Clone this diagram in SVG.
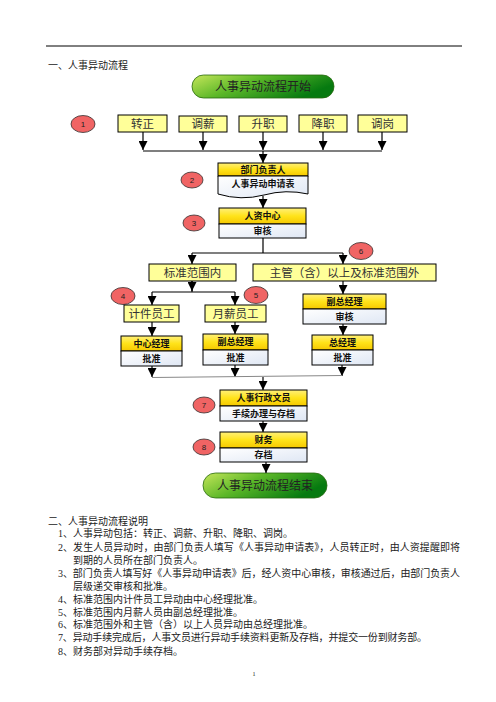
<svg xmlns="http://www.w3.org/2000/svg" width="496" height="702" viewBox="0 0 496 702">
<style>
.t{font-family:"Liberation Serif","Noto Sans CJK SC",serif;fill:#222;}
.b{font-family:"Noto Sans CJK SC",sans-serif;font-weight:bold;fill:#111;font-size:9px;text-anchor:middle;}
.yb{fill:#ffff99;stroke:#000;stroke-width:1;}
.hd{fill:url(#gy);stroke:#000;stroke-width:1;}
.lo{fill:url(#gb);stroke:#000;stroke-width:1;}
.c{fill:#f06464;stroke:#333;stroke-width:0.8;}
.ln{fill:none;stroke:#000;stroke-width:1.2;}
.ar{fill:none;stroke:#000;stroke-width:1.2;marker-end:url(#ah);}
.lbl{font-family:"Liberation Serif","Noto Sans CJK SC",serif;fill:#333;font-size:11.5px;text-anchor:middle;}
.num{font-family:"Liberation Sans",sans-serif;fill:#222;font-size:8px;text-anchor:middle;}
.p{font-family:"Liberation Serif","Noto Sans CJK SC",serif;fill:#222;font-size:10px;}
</style>
<defs>
<linearGradient id="gy" x1="0" y1="0" x2="0" y2="1"><stop offset="0" stop-color="#fff07a"/><stop offset="0.5" stop-color="#ffe31a"/><stop offset="1" stop-color="#f5c800"/></linearGradient>
<linearGradient id="gb" x1="0" y1="0" x2="1" y2="1"><stop offset="0" stop-color="#ffffff"/><stop offset="1" stop-color="#dfe7f4"/></linearGradient>
<linearGradient id="gg" x1="0" y1="0" x2="1" y2="0.4"><stop offset="0" stop-color="#c6e65a"/><stop offset="0.45" stop-color="#5db829"/><stop offset="1" stop-color="#067a10"/></linearGradient>
<marker id="ah" markerUnits="userSpaceOnUse" markerWidth="9" markerHeight="9" viewBox="0 0 10 10" refX="10" refY="5" orient="auto"><path d="M0,0 L10,5 L0,10 z" fill="#000"/></marker>
</defs>

<line x1="46" y1="46" x2="462" y2="46" stroke="#000" stroke-width="1"/>
<text class="p" x="48" y="69">一、人事异动流程</text>

<g id="start">
<rect x="192" y="75" width="142" height="23" rx="11.5" fill="url(#gg)" stroke="#2a6a10" stroke-width="0.8"/>
<text class="t" x="263" y="90.5" font-size="12" text-anchor="middle" fill="#1a2a0a">人事异动流程开始</text>
</g>

<g id="c1"><ellipse class="c" cx="83" cy="124" rx="12" ry="8.5"/><text class="num" x="83" y="127">1</text></g>
<g id="n-zz"><rect class="yb" x="118" y="115" width="49" height="17"/><text class="lbl" x="142.5" y="127.5">转正</text></g>
<g id="n-tx"><rect class="yb" x="179" y="116" width="48" height="16"/><text class="lbl" x="203" y="128">调薪</text></g>
<g id="n-sz"><rect class="yb" x="239" y="116" width="48" height="16"/><text class="lbl" x="263" y="128">升职</text></g>
<g id="n-jz"><rect class="yb" x="299" y="115" width="48" height="17"/><text class="lbl" x="323" y="127.5">降职</text></g>
<g id="n-tg"><rect class="yb" x="358" y="115" width="49" height="17"/><text class="lbl" x="382.5" y="127.5">调岗</text></g>

<g id="c2"><ellipse class="c" cx="192" cy="180" rx="11" ry="8"/><text class="num" x="192" y="183">2</text></g>
<g id="n-bm">
<rect class="hd" x="218" y="163" width="90" height="13"/>
<path class="lo" d="M218,176 H308 V194 Q286,189 264,195 Q241,201 218,194 Z"/>
<text class="b" x="263" y="172.5">部门负责人</text>
<text class="b" x="263" y="187">人事异动申请表</text>
</g>

<g id="c3"><ellipse class="c" cx="194" cy="223" rx="11" ry="8"/><text class="num" x="194" y="226">3</text></g>
<g id="n-rz">
<rect class="hd" x="219" y="208" width="87" height="16"/>
<rect class="lo" x="219" y="224" width="87" height="14"/>
<text class="b" x="262.5" y="219">人资中心</text>
<text class="b" x="262.5" y="234">审核</text>
</g>

<g id="n-bzn"><rect class="yb" x="149" y="264" width="87" height="17"/><text class="lbl" x="192.5" y="276.5">标准范围内</text></g>
<g id="c6"><ellipse class="c" cx="361" cy="251" rx="12" ry="8.5"/><text class="num" x="361" y="254">6</text></g>
<g id="n-bzw"><rect class="yb" x="253" y="264" width="183" height="17"/><text class="lbl" x="344.5" y="276.5">主管（含）以上及标准范围外</text></g>

<g id="c4"><ellipse class="c" cx="123" cy="296" rx="12" ry="8.5"/><text class="num" x="123" y="299">4</text></g>
<g id="c5"><ellipse class="c" cx="256" cy="295" rx="12" ry="8.5"/><text class="num" x="256" y="298">5</text></g>
<g id="n-jj"><rect class="yb" x="124" y="305" width="55" height="17"/><text class="lbl" x="151.5" y="317.5">计件员工</text></g>
<g id="n-yx"><rect class="yb" x="205" y="305" width="61" height="17"/><text class="lbl" x="235.5" y="317.5">月薪员工</text></g>

<g id="n-fz1">
<rect class="hd" x="303" y="294" width="83" height="15"/>
<rect class="lo" x="303" y="309" width="83" height="15"/>
<text class="b" x="344.5" y="304.5">副总经理</text>
<text class="b" x="344.5" y="319.5">审核</text>
</g>
<g id="n-zjl">
<rect class="hd" x="312" y="335" width="61" height="15"/>
<rect class="lo" x="312" y="350" width="61" height="15"/>
<text class="b" x="342.5" y="345.5">总经理</text>
<text class="b" x="342.5" y="360.5">批准</text>
</g>
<g id="n-zx">
<rect class="hd" x="121" y="336" width="61" height="15"/>
<rect class="lo" x="121" y="351" width="61" height="15"/>
<text class="b" x="151.5" y="346.5">中心经理</text>
<text class="b" x="151.5" y="361.5">批准</text>
</g>
<g id="n-fz2">
<rect class="hd" x="203" y="334" width="65" height="16"/>
<rect class="lo" x="203" y="350" width="65" height="15"/>
<text class="b" x="235.5" y="345">副总经理</text>
<text class="b" x="235.5" y="360.5">批准</text>
</g>

<g id="c7"><ellipse class="c" cx="204" cy="405" rx="11" ry="8"/><text class="num" x="204" y="408">7</text></g>
<g id="n-rs">
<rect class="hd" x="220" y="390" width="87" height="16"/>
<rect class="lo" x="220" y="406" width="87" height="15"/>
<text class="b" x="263.5" y="401">人事行政文员</text>
<text class="b" x="263.5" y="416.5">手续办理与存档</text>
</g>
<g id="c8"><ellipse class="c" cx="204" cy="447" rx="11" ry="8"/><text class="num" x="204" y="450">8</text></g>
<g id="n-cw">
<rect class="hd" x="220" y="432" width="87" height="16"/>
<rect class="lo" x="220" y="448" width="87" height="14"/>
<text class="b" x="263.5" y="443">财务</text>
<text class="b" x="263.5" y="458">存档</text>
</g>

<g id="end">
<rect x="203" y="473" width="124" height="25" rx="12.5" fill="url(#gg)" stroke="#2a6a10" stroke-width="0.8"/>
<text class="t" x="265" y="490" font-size="12" text-anchor="middle" fill="#1a2a0a">人事异动流程结束</text>
</g>

<g id="connectors">
<path class="ar" d="M143,132 V150"/>
<path class="ar" d="M203,132 V150"/>
<path class="ar" d="M263,132 V150"/>
<path class="ar" d="M323,132 V150"/>
<path class="ar" d="M382,132 V150"/>
<path class="ln" d="M143,151 H382"/>
<path class="ar" d="M263,151 V163"/>
<path class="ar" d="M263,196 V208"/>
<path class="ln" d="M263,238 V253 M192,253 H343"/>
<path class="ar" d="M192,253 V264"/>
<path class="ar" d="M343,253 V264"/>
<path class="ln" d="M192,281 V292 M152,292 H235"/>
<path class="ar" d="M192,281 V291"/>
<path class="ar" d="M152,292 V305"/>
<path class="ar" d="M235,292 V305"/>
<path class="ar" d="M343,281 V294"/>
<path class="ar" d="M343,324 V335"/>
<path class="ar" d="M152,322 V336"/>
<path class="ar" d="M235,322 V334"/>
<path class="ar" d="M152,366 V377"/>
<path class="ar" d="M235,365 V377"/>
<path class="ar" d="M342,365 V376"/>
<path d="M152,377.5 L342,375.5" fill="none" stroke="#888" stroke-width="1"/>
<path class="ar" d="M263,377 V390"/>
<path class="ar" d="M263,421 V432"/>
<path class="ar" d="M266,462 V473"/>
</g>

<g id="notes">
<text class="p" x="48" y="524.5">二、人事异动流程说明</text>
<text class="p" x="58" y="537">1、人事异动包括：转正、调薪、升职、降职、调岗。</text>
<text class="p" x="58" y="550.5" textLength="402" lengthAdjust="spacing">2、发生人员异动时，由部门负责人填写《人事异动申请表》，人员转正时，由人资提醒即将</text>
<text class="p" x="73" y="563.5">到期的人员所在部门负责人。</text>
<text class="p" x="58" y="576.5" textLength="402" lengthAdjust="spacing">3、部门负责人填写好《人事异动申请表》后，经人资中心审核，审核通过后，由部门负责人</text>
<text class="p" x="73" y="589.5">层级递交审核和批准。</text>
<text class="p" x="58" y="602.5">4、标准范围内计件员工异动由中心经理批准。</text>
<text class="p" x="58" y="615.5">5、标准范围内月薪人员由副总经理批准。</text>
<text class="p" x="58" y="628">6、标准范围外和主管（含）以上人员异动由总经理批准。</text>
<text class="p" x="58" y="641" textLength="369" lengthAdjust="spacing">7、异动手续完成后，人事文员进行异动手续资料更新及存档，并提交一份到财务部。</text>
<text class="p" x="58" y="654.5">8、财务部对异动手续存档。</text>
<text x="254" y="676" font-family="Liberation Serif, serif" font-size="6" text-anchor="middle" fill="#222">1</text>
</g>
</svg>
